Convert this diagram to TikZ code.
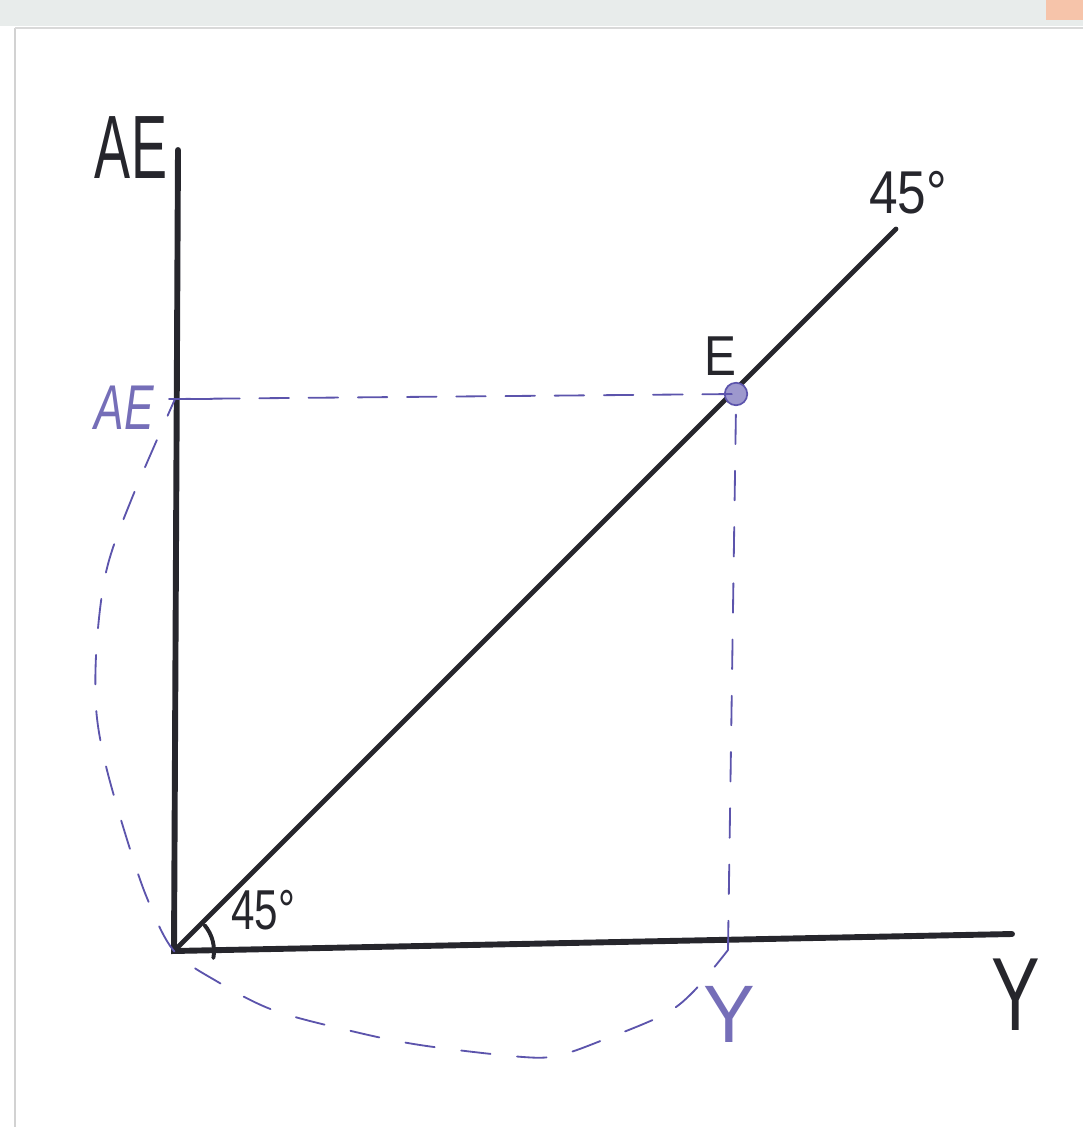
\documentclass[tikz,border=0pt]{standalone}
\usepackage{fontspec}
\setmainfont{Liberation Sans}
\usetikzlibrary{calc}
\definecolor{penblack}{RGB}{38,38,44}
\definecolor{penblue}{RGB}{92,84,172}
\definecolor{paperedge}{RGB}{232,236,235}
\definecolor{tabpeach}{RGB}{246,196,170}
\newcommand{\handtext}[3]{\fontsize{#1}{#1}\selectfont\scalebox{#2}[1]{#3}}

\begin{document}
\begin{tikzpicture}[x=0.025cm, y=-0.025cm,
    axis/.style={penblack, line width=4.2pt, line cap=round},
    ray/.style={penblack, line width=3.4pt, line cap=round},
    guide/.style={penblue, line width=1.3pt, line cap=round,
                  dash pattern=on 21pt off 19pt},
    pen/.style={penblue, line width=1.3pt, line cap=round},
    lbl/.style={inner sep=0pt, text=penblack},
    bluelbl/.style={inner sep=0pt, text=penblue!85}]
  \useasboundingbox (0,0) rectangle (1083,1127);
  % scanned paper edge
  \fill[paperedge] (0,0) rectangle (1083,26);
  \fill[tabpeach] (1046,0) rectangle (1083,20);
  \draw[gray!35, line width=1pt] (15,28) -- (15,1127);
  \draw[gray!30, line width=0.8pt] (15,28) -- (1083,28);

  \coordinate (O) at (174,951);
  \coordinate (ytop) at (178,150);
  \coordinate (xend) at (1012,934);
  \coordinate (rayend) at (896,229);
  \coordinate (aetick) at (175,399);
  \coordinate (yfoot) at (728,950);

  % axes and the 45 degree line
  \draw[axis] (ytop) -- (O) -- (xend);
  \draw[ray] (O) -- (rayend);
  \draw[penblack, line width=2.8pt, line cap=round]
    (O) ++(10:40) arc[start angle=10, end angle=-40, radius=40];

  \node[circle, fill=penblue!60, draw=penblue, line width=1.2pt,
        inner sep=0pt, minimum size=16pt] (E) at (736,394) {};

  % dashed guides
  \draw[pen] ($(aetick)+(-6,0)$) -- ($(aetick)+(37,0)$);
  \draw[guide, dash pattern=on 21pt off 14pt, dash phase=-25pt]
    (aetick) -- (E.center);
  \draw[guide, dash phase=-6pt] (E.south) -- (yfoot);
  \draw[guide, dash phase=8pt] plot[smooth, tension=0.55] coordinates {
    (aetick) (132,498) (107,568) (97,640) (96,707) (105,762) (125,833)
    (147,898) (O) (218,982) (273,1010) (347,1030) (420,1045)
    (523,1057) (560,1055) (603,1040) (663,1015) (693,992) (yfoot)};

  % labels
  \node[lbl] (aetop) at (131,148) {\handtext{64}{0.6}{AE}};
  \node[lbl] (ytext) at (1016,995) {\handtext{74}{0.7}{Y}};
  \node[lbl] (elbl) at (720,356) {\handtext{40}{0.85}{E}};
  \node[lbl] (raydeg) at (908,193) {\handtext{43}{0.85}{45°}};
  \node[lbl] (odeg) at (263,910) {\handtext{40}{0.75}{45°}};
  \node[bluelbl] (aeside) at (124,408) {\itshape\handtext{45}{0.7}{AE}};
  \node[bluelbl] (yside) at (729,1014) {\handtext{58}{0.95}{Y}};
\end{tikzpicture}
\end{document}
